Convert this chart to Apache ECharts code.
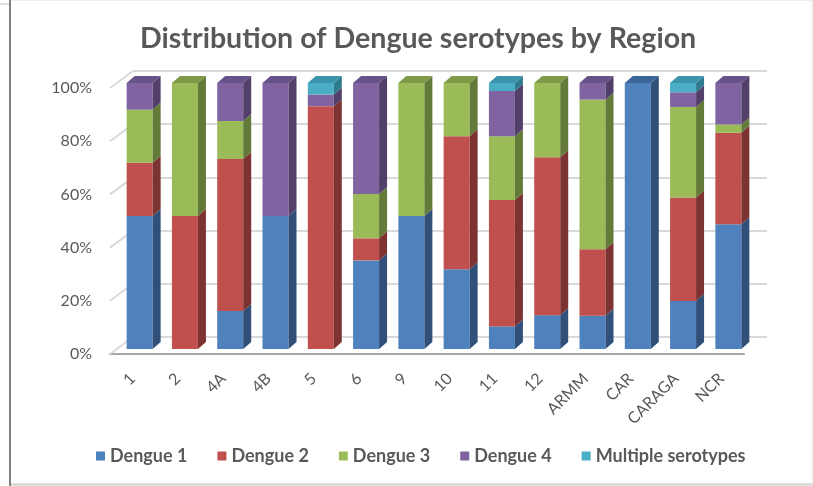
<!DOCTYPE html>
<html>
<head>
<meta charset="utf-8">
<script src="https://cdn.jsdelivr.net/npm/echarts@6/dist/echarts.min.js"></script>
<style>html,body{margin:0;padding:0;background:#fff;}#c{width:813px;height:486px;}</style>
</head>
<body>
<div id="c"></div>
<script>
const categories = ['1','2','4A','4B','5','6','9','10','11','12','ARMM','CAR','CARAGA','NCR'];
const dengue1  = [50, 0, 14.3, 50, 0,    33.3, 50, 30, 8.5,  12.7, 12.5,  100, 18,  46.9];
const dengue2  = [20, 50, 57.1, 0, 91.3, 8.3,  0,  50, 47.5, 59.4, 25,    0,   39,  34.4];
const dengue3  = [20, 50, 14.3, 0, 0,    16.7, 50, 20, 24,   27.9, 56.25, 0,   34,  3.1];
const dengue4  = [10, 0, 14.3, 50, 4.35, 41.7, 0,  0,  17,   0,    6.25,  0,   5.5, 15.6];
const multiple = [0,  0, 0,    0,  4.35, 0,    0,  0,  3,    0,    0,     0,   3.5, 0];
const seriesNames = ['Dengue 1','Dengue 2','Dengue 3','Dengue 4','Multiple serotypes'];
const yTicks = [0, 20, 40, 60, 80, 100];

const allSeries = [dengue1, dengue2, dengue3, dengue4, multiple];
const frontColors = ['#4F81BD','#C0504D','#9BBB59','#8064A2','#4BACC6'];
const sideColors  = ['#30507A','#7D3331','#637A39','#523F6A','#2E7B8E'];
const topColors   = ['#3D6698','#9C423F','#7E9A47','#68528A','#3B94AB'];
const BAR_W = 26, DX = 8, DY = 7;
const FONT = 'Lato, "Open Sans", sans-serif';

// build 3D face data: [catIndex, start, end, seriesIndex, isTop]
const faceData = [];
categories.forEach((c, i) => {
  let acc = 0; let lastS = -1;
  allSeries.forEach((arr, s) => { if (arr[i] > 0) lastS = s; });
  allSeries.forEach((arr, s) => {
    const v = arr[i];
    if (v > 0) { faceData.push([i, acc, acc + v, s, s === lastS ? 1 : 0]); acc += v; }
  });
});

const chart = echarts.init(document.getElementById('c'), null, {renderer: 'canvas'});
const option = {
  backgroundColor: '#fff',
  animation: false,
  title: {
    text: 'Distribution of Dengue serotypes by Region',
    left: 135, top: 19,
    textStyle: {fontFamily: FONT, fontSize: 28.6, fontWeight: 'bold', color: '#595959'}
  },
  legend: {
    data: seriesNames,
    left: 91, top: 442,
    itemWidth: 9, itemHeight: 9, itemGap: 30,
    icon: 'rect',
    textStyle: {fontFamily: FONT, fontSize: 18, fontWeight: 'bold', color: '#595959'}
  },
  grid: [
    {left: 110, width: 634, top: 88, height: 266},   // front plane (labels, floor edge)
    {left: 117, width: 634, top: 83, height: 266},   // bars
    {left: 133, width: 634, top: 71, height: 266}    // back wall
  ],
  xAxis: [
    {gridIndex: 0, type: 'category', data: categories,
     axisLine: {lineStyle: {color: '#A6A6A6', width: 2}}, axisTick: {show: false},
     axisLabel: {rotate: 45, margin: 22, fontFamily: FONT, fontSize: 16, color: '#595959', interval: 0}},
    {gridIndex: 1, type: 'category', data: categories, show: false},
    {gridIndex: 2, type: 'category', data: categories, show: false}
  ],
  yAxis: [
    {gridIndex: 0, type: 'value', min: 0, max: 100, interval: 20,
     axisLabel: {formatter: '{value}%', fontFamily: FONT, fontSize: 16, color: '#595959', margin: 18},
     splitLine: {show: false}, axisLine: {show: false}, axisTick: {show: false}},
    {gridIndex: 1, type: 'value', min: 0, max: 100, interval: 20, show: false, splitLine: {show: false}},
    {gridIndex: 2, type: 'value', min: 0, max: 100, interval: 20,
     axisLabel: {show: false}, axisLine: {show: false}, axisTick: {show: false},
     splitLine: {show: true, lineStyle: {color: '#D9D9D9', width: 2}}}
  ],
  series: [
    {
      type: 'custom', name: 'depthLines', xAxisIndex: 0, yAxisIndex: 0, silent: true, z: 1,
      data: yTicks.map(v => [0, v]),
      renderItem: function (params, api) {
        const cs = params.coordSys;
        const y = api.coord([0, api.value(1)])[1];
        return {type: 'line', shape: {x1: cs.x, y1: y, x2: cs.x + 23, y2: y - 17},
                style: {stroke: '#D9D9D9', lineWidth: 2}};
      }
    },
    ...allSeries.map((arr, s) => ({
      type: 'bar', name: seriesNames[s], stack: 'total', data: arr,
      xAxisIndex: 1, yAxisIndex: 1, barWidth: BAR_W, z: 3,
      itemStyle: {color: frontColors[s]}
    })),
    {
      type: 'custom', name: 'faces', xAxisIndex: 1, yAxisIndex: 1, silent: true, z: 4,
      data: faceData,
      renderItem: function (params, api) {
        const i = api.value(0), s = api.value(3), top = api.value(4);
        const p0 = api.coord([i, api.value(1)]);
        const p1 = api.coord([i, api.value(2)]);
        const xl = p0[0] - BAR_W / 2, xr = p0[0] + BAR_W / 2;
        const children = [{
          type: 'polygon',
          shape: {points: [[xr, p0[1]], [xr, p1[1]], [xr + DX, p1[1] - DY], [xr + DX, p0[1] - DY]]},
          style: {fill: sideColors[s]}
        }];
        if (top) children.push({
          type: 'polygon',
          shape: {points: [[xl, p1[1]], [xr, p1[1]], [xr + DX, p1[1] - DY], [xl + DX, p1[1] - DY]]},
          style: {fill: topColors[s]}
        });
        return {type: 'group', children: children};
      }
    }
  ],
  graphic: [
    {type: 'line', shape: {x1: 10, y1: 0, x2: 10, y2: 486}, style: {stroke: '#808080', lineWidth: 2}, silent: true},
    {type: 'line', shape: {x1: 0, y1: 4, x2: 9, y2: 4}, style: {stroke: '#BFBFBF', lineWidth: 1}, silent: true},
    {type: 'line', shape: {x1: 11, y1: 484.5, x2: 813, y2: 484.5}, style: {stroke: '#D0D0D0', lineWidth: 2}, silent: true},
    {type: 'line', shape: {x1: 812, y1: 0, x2: 812, y2: 486}, style: {stroke: '#E6E6E6', lineWidth: 1}, silent: true},
    {type: 'line', shape: {x1: 11, y1: 0.5, x2: 813, y2: 0.5}, style: {stroke: '#EEEEEE', lineWidth: 1}, silent: true}
  ]
};
chart.setOption(option);
</script>
</body>
</html>
